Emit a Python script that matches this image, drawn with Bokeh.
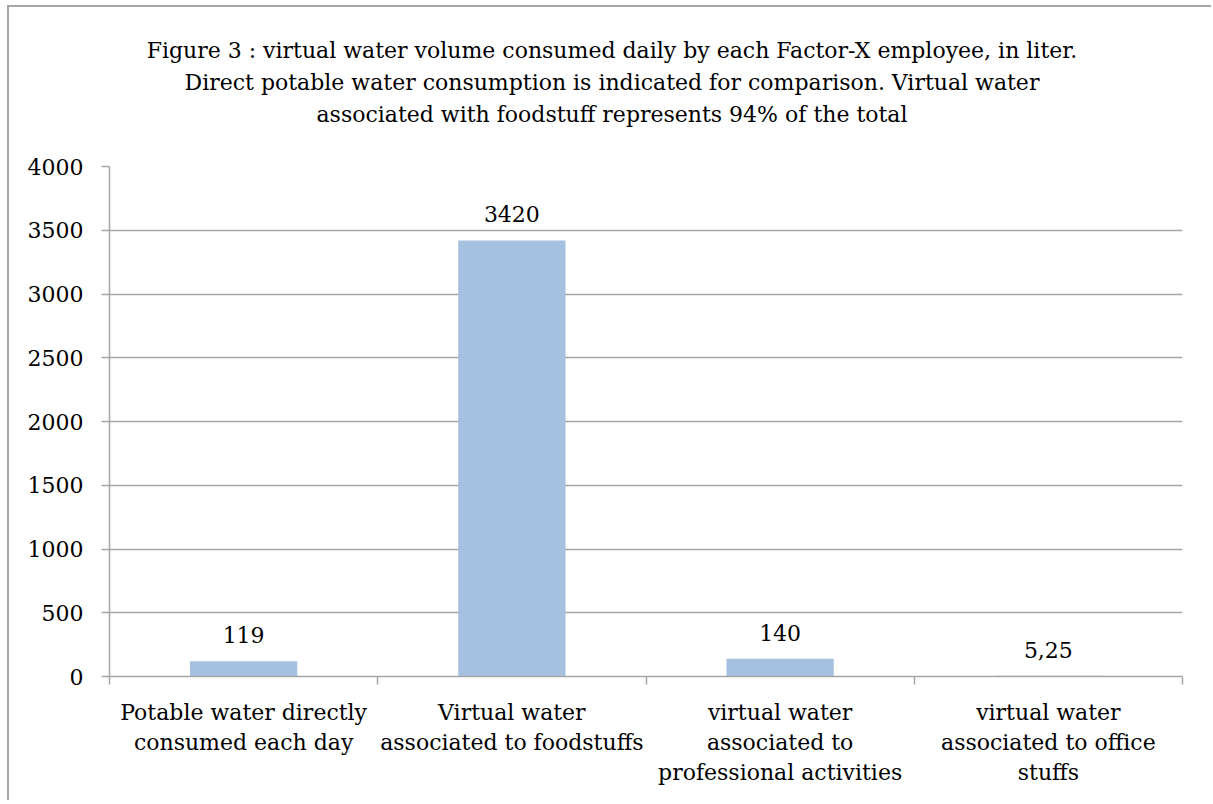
from bokeh.plotting import figure
from bokeh.layouts import column
from bokeh.models import (ColumnDataSource, Range1d, LinearAxis, FixedTicker, LabelSet, Div)
from bokeh.core.properties import value
from bokeh.embed import file_html
from bokeh.resources import INLINE

# ---- data ----
categories = [
    "Potable water directly\nconsumed each day",
    "Virtual water\nassociated to foodstuffs",
    "virtual water\nassociated to\nprofessional activities",
    "virtual water\nassociated to office\nstuffs",
]
values = [119, 3420, 140, 5.25]
value_labels = ["119", "3420", "140", "5,25"]
y_ticks = [0, 500, 1000, 1500, 2000, 2500, 3000, 3500, 4000]
title_lines = [
    "Figure 3 : virtual water volume consumed daily by each Factor-X employee, in liter.",
    "Direct potable water consumption is indicated for comparison. Virtual water",
    "associated with foodstuff represents 94% of the total",
]

FONT = "DejaVu Serif"
FS = "22px"
GRAY = "#a6a6a6"
BAR = "#a6c0df"

n = len(categories)
centers = [i + 0.5 for i in range(n)]          # slot centres on the category axis
bounds = list(range(n + 1))                      # slot boundaries (tick marks)

src = ColumnDataSource(dict(x=centers, val=values, lab=value_labels))

# ---- title block ----
title_div = Div(text="<br>".join(title_lines), width=1198, height=133, margin=(0, 0, 0, 4),
                styles={"text-align": "center", "font-family": FONT, "font-size": FS,
                        "line-height": "32px", "color": "black", "padding-top": "28px",
                        "box-sizing": "border-box"})

# ---- chart ----
p = figure(x_range=Range1d(0, n), y_range=Range1d(0, 4000),
           width=1202, height=660, output_backend="svg", toolbar_location=None,
           x_axis_location=None, margin=0,
           min_border_left=100, min_border_right=29, min_border_top=26, min_border_bottom=124)
p.title.visible = False
p.outline_line_color = None
p.background_fill_color = "white"
p.border_fill_color = "white"
p.xgrid.grid_line_color = None

# y axis
yax = p.yaxis[0]
yax.ticker = FixedTicker(ticks=y_ticks)
yax.axis_line_color = GRAY
yax.axis_line_width = 1.5
yax.major_tick_line_color = GRAY
yax.major_tick_line_width = 1.5
yax.major_tick_out = 8
yax.major_tick_in = 0
yax.minor_tick_line_color = None
yax.major_label_text_font = FONT
yax.major_label_text_font_size = FS
yax.major_label_text_color = "black"
yax.major_label_standoff = 18

p.ygrid.ticker = FixedTicker(ticks=y_ticks)
p.ygrid.grid_line_color = GRAY
p.ygrid.grid_line_width = 1.5

# x axis: labels at slot centres, tick marks at slot boundaries
xax = LinearAxis(ticker=FixedTicker(ticks=centers, minor_ticks=bounds),
                 major_label_overrides={c: lab for c, lab in zip(centers, categories)},
                 axis_line_color=GRAY, axis_line_width=1.5,
                 major_tick_line_color=None, major_tick_out=8, major_tick_in=0,
                 minor_tick_line_color=GRAY, minor_tick_line_width=1.5,
                 minor_tick_out=8, minor_tick_in=0,
                 major_label_text_font=FONT, major_label_text_font_size=FS,
                 major_label_text_color="black",
                 major_label_text_line_height=1.2,
                 major_label_standoff=15)
p.add_layout(xax, "below")

# bars
p.vbar(x="x", top="val", width=0.4, source=src, fill_color=BAR, line_color=None)

# value labels
p.add_layout(LabelSet(x="x", y="val", text="lab", source=src, text_align="center",
                      text_baseline="alphabetic", y_offset=18,
                      text_font=value(FONT), text_font_size=value(FS), text_color="black"))

layout = column(title_div, p, spacing=0,
                styles={"border-top": "2px solid #a6a6a6", "border-left": "2px solid #a6a6a6",
                        "margin-left": "7px", "margin-top": "5px", "background": "white"})

open("out.html", "w").write(file_html(layout, INLINE))
